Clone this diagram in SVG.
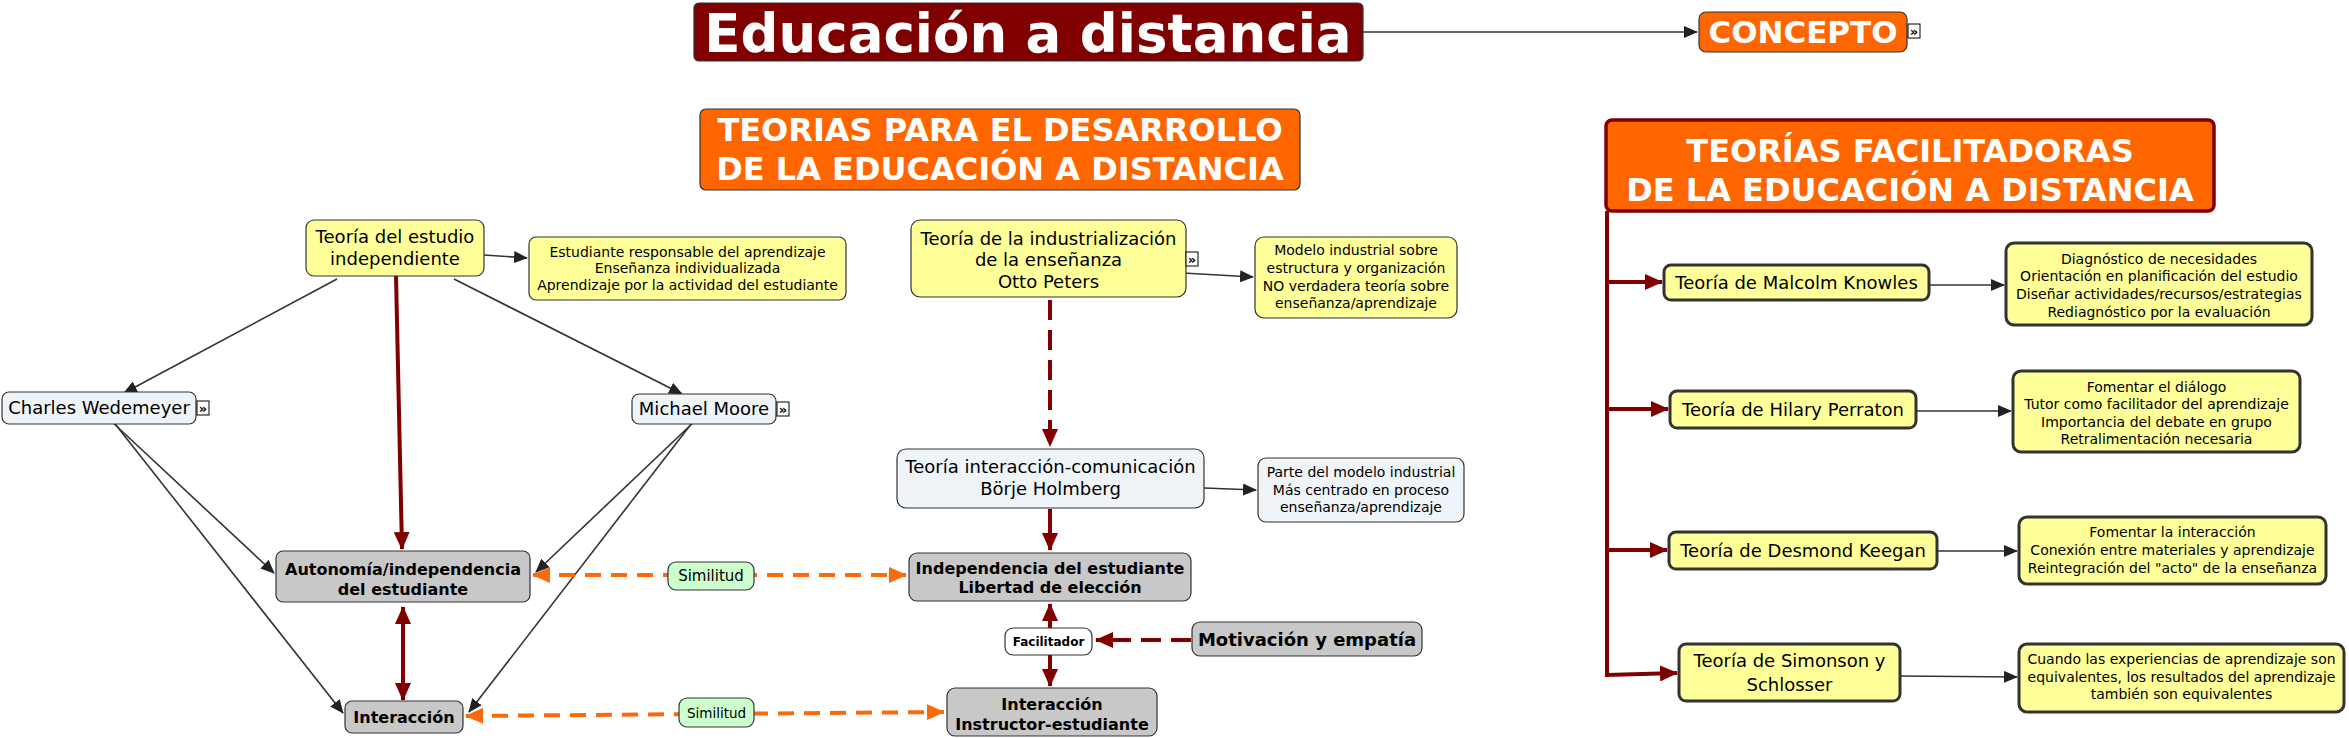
<svg xmlns="http://www.w3.org/2000/svg" width="2349" height="738" viewBox="0 0 2349 738">
<style>
text{font-family:"DejaVu Sans",Verdana,sans-serif;text-anchor:middle;fill:#000}
.w{fill:#fff;font-weight:bold}
.n{font-size:18px}
.d{font-size:14px}
.b{font-weight:bold}
.yel{fill:#ffff99;stroke:#333;stroke-width:1.2}
.yelR{fill:#ffff99;stroke:#333;stroke-width:3}
.blu{fill:#eef4f7;stroke:#333;stroke-width:1.2}
.gry{fill:#c8c8c8;stroke:#333;stroke-width:1.2}
.grn{fill:#ccffcc;stroke:#333;stroke-width:1.2}
.org{fill:#ff6600;stroke:#333;stroke-width:1.2}
.ic{fill:#fff;stroke:#000;stroke-width:1}
.ict{font-size:13px;font-weight:bold}
.thin{fill:none;stroke:#333;stroke-width:1.6;marker-end:url(#ab)}
.red{fill:none;stroke:#800000;stroke-width:4;marker-end:url(#ar)}
.redd{fill:none;stroke:#800000;stroke-width:4;stroke-dasharray:20 10;marker-end:url(#ar)}
.od{fill:none;stroke:#f96a0a;stroke-width:4;stroke-dasharray:16 10;marker-start:url(#ao);marker-end:url(#ao)}
</style>
<defs>
<marker id="ab" markerUnits="userSpaceOnUse" markerWidth="14" markerHeight="12" refX="13" refY="6" orient="auto-start-reverse"><path d="M0,0 L14,6 L0,12 Z" fill="#222"/></marker>
<marker id="ar" markerUnits="userSpaceOnUse" markerWidth="18" markerHeight="16" refX="17" refY="8" orient="auto-start-reverse"><path d="M0,0 L18,8 L0,16 Z" fill="#800000"/></marker>
<marker id="ao" markerUnits="userSpaceOnUse" markerWidth="18" markerHeight="16" refX="17" refY="8" orient="auto-start-reverse"><path d="M0,0 L18,8 L0,16 Z" fill="#f96a0a"/></marker>
</defs>

<g id="connectors">
<path class="thin" d="M1363,32 L1697,32"/>
<path class="thin" d="M484,255 L527,258"/>
<path class="thin" d="M337,279 L124,393"/>
<path class="thin" d="M454,279 L682,394"/>
<path class="red" d="M396,276 L402,549"/>
<path class="red" d="M403,700 L403,607" style="marker-start:url(#ar)"/>
<path class="thin" d="M110,420 L274,573"/>
<path class="thin" d="M112,420 L343,713"/>
<path class="thin" d="M697,419 L536,572"/>
<path class="thin" d="M695,419 L469,712"/>
<path class="od" d="M533,575 L906,575"/>
<path class="od" d="M466,716 L944,712"/>
<path class="thin" d="M1183,273 L1253,277"/>
<path class="redd" d="M1050,300 L1050,446"/>
<path class="thin" d="M1204,488 L1256,490"/>
<path class="red" d="M1050,509 L1050,550"/>
<path class="red" d="M1050,628 L1050,604"/>
<path class="red" d="M1050,655 L1050,686"/>
<path class="redd" d="M1191,640 L1096,640"/>
<path class="red" d="M1607,211 L1607,282 L1662,282"/>
<path class="red" d="M1607,282 L1607,409 L1668,409"/>
<path class="red" d="M1607,409 L1607,550 L1667,550"/>
<path class="red" d="M1607,550 L1607,675 L1677,673"/>
<path class="thin" d="M1929,285 L2004,285"/>
<path class="thin" d="M1916,411 L2011,411"/>
<path class="thin" d="M1937,551 L2017,551"/>
<path class="thin" d="M1900,676 L2017,677"/>
</g>

<g id="title">
<rect x="694" y="3" width="669" height="58" rx="5" fill="#800000" stroke="#333" stroke-width="1.2"/>
<text class="w" x="1028" y="52" font-size="53">Educación a distancia</text>
</g>

<g id="concepto">
<rect class="org" x="1699" y="12" width="208" height="40" rx="7"/>
<text class="w" x="1803" y="43" font-size="31">CONCEPTO</text>
<rect class="ic" x="1908" y="24" width="12" height="14"/>
<text class="ict" x="1914" y="36">»</text>
</g>

<g id="teorias-desarrollo">
<rect class="org" x="700" y="109" width="600" height="81" rx="6"/>
<text class="w" x="1000" y="141" font-size="32">TEORIAS PARA EL DESARROLLO</text>
<text class="w" x="1000" y="180" font-size="32">DE LA EDUCACIÓN A DISTANCIA</text>
</g>

<g id="teorias-facilitadoras">
<rect x="1606" y="120" width="608" height="91" rx="6" fill="#ff6600" stroke="#800000" stroke-width="3.5"/>
<text class="w" x="1910" y="162" font-size="32">TEORÍAS FACILITADORAS</text>
<text class="w" x="1910" y="201" font-size="32">DE LA EDUCACIÓN A DISTANCIA</text>
</g>

<g id="estudio-independiente">
<rect class="yel" x="306" y="220" width="178" height="56" rx="8"/>
<text class="n" x="395" y="243">Teoría del estudio</text>
<text class="n" x="395" y="265">independiente</text>
</g>

<g id="estudio-desc">
<rect class="yel" x="529" y="237" width="317" height="63" rx="7"/>
<text class="d" x="687.5" y="257">Estudiante responsable del aprendizaje</text>
<text class="d" x="687.5" y="273">Enseñanza individualizada</text>
<text class="d" x="687.5" y="290">Aprendizaje por la actividad del estudiante</text>
</g>

<g id="charles">
<rect class="blu" x="2" y="392" width="194" height="32" rx="7"/>
<text class="n" x="99" y="414">Charles Wedemeyer</text>
<rect class="ic" x="197" y="401" width="12" height="14"/>
<text class="ict" x="203" y="413">»</text>
</g>

<g id="michael">
<rect class="blu" x="632" y="394" width="144" height="30" rx="7"/>
<text class="n" x="704" y="415">Michael Moore</text>
<rect class="ic" x="777" y="402" width="12" height="14"/>
<text class="ict" x="783" y="414">»</text>
</g>

<g id="autonomia">
<rect class="gry" x="276" y="551" width="254" height="51" rx="7"/>
<text class="b" x="403" y="575" font-size="16">Autonomía/independencia</text>
<text class="b" x="403" y="595" font-size="16">del estudiante</text>
</g>

<g id="interaccion">
<rect class="gry" x="345" y="701" width="118" height="32" rx="7"/>
<text class="b" x="404" y="723" font-size="16">Interacción</text>
</g>

<g id="similitud-1">
<rect class="grn" x="668" y="562" width="86" height="28" rx="8"/>
<text x="711" y="581" font-size="15" fill="#222">Similitud</text>
</g>

<g id="similitud-2">
<rect class="grn" x="679" y="698" width="75" height="29" rx="8"/>
<text x="716.5" y="717.5" font-size="13.5" fill="#222">Similitud</text>
</g>

<g id="industrializacion">
<rect class="yel" x="911" y="220" width="275" height="77" rx="9"/>
<text class="n" x="1048.5" y="244.5">Teoría de la industrialización</text>
<text class="n" x="1048.5" y="265.5">de la enseñanza</text>
<text class="n" x="1048.5" y="287.5">Otto Peters</text>
<rect class="ic" x="1186" y="252" width="12" height="14"/>
<text class="ict" x="1192" y="264">»</text>
</g>

<g id="industrializacion-desc">
<rect class="yel" x="1255" y="237" width="202" height="81" rx="9"/>
<text class="d" x="1356" y="255">Modelo industrial sobre</text>
<text class="d" x="1356" y="273">estructura y organización</text>
<text class="d" x="1356" y="291">NO verdadera teoría sobre</text>
<text class="d" x="1356" y="308">enseñanza/aprendizaje</text>
</g>

<g id="interaccion-comunicacion">
<rect class="blu" x="897" y="449" width="307" height="59" rx="9"/>
<text class="n" x="1050.5" y="472.5">Teoría interacción-comunicación</text>
<text class="n" x="1050.5" y="494.5">Börje Holmberg</text>
</g>

<g id="interaccion-comunicacion-desc">
<rect class="blu" x="1258" y="458" width="206" height="64" rx="8"/>
<text class="d" x="1361" y="477">Parte del modelo industrial</text>
<text class="d" x="1361" y="495">Más centrado en proceso</text>
<text class="d" x="1361" y="512">enseñanza/aprendizaje</text>
</g>

<g id="independencia">
<rect class="gry" x="909" y="553" width="282" height="48" rx="8"/>
<text class="b" x="1050" y="574" font-size="16">Independencia del estudiante</text>
<text class="b" x="1050" y="593" font-size="16">Libertad de elección</text>
</g>

<g id="facilitador">
<rect x="1005" y="628" width="87" height="27" rx="8" fill="#fff" stroke="#333" stroke-width="1.2"/>
<text class="b" x="1048.5" y="646" font-size="12" fill="#333">Facilitador</text>
</g>

<g id="instructor">
<rect class="gry" x="947" y="688" width="210" height="48" rx="8"/>
<text class="b" x="1052" y="710" font-size="16">Interacción</text>
<text class="b" x="1052" y="730" font-size="16">Instructor-estudiante</text>
</g>

<g id="motivacion">
<rect class="gry" x="1192" y="622" width="230" height="34" rx="8"/>
<text class="b" x="1307" y="645.5" font-size="18">Motivación y empatía</text>
</g>

<g id="malcolm">
<rect class="yelR" x="1664" y="265" width="265" height="35" rx="7"/>
<text class="n" x="1796.5" y="289">Teoría de Malcolm Knowles</text>
</g>
<g id="malcolm-desc">
<rect class="yelR" x="2006" y="243" width="306" height="82" rx="8"/>
<text class="d" x="2159" y="264">Diagnóstico de necesidades</text>
<text class="d" x="2159" y="281">Orientación en planificación del estudio</text>
<text class="d" x="2159" y="299">Diseñar actividades/recursos/estrategias</text>
<text class="d" x="2159" y="317">Rediagnóstico por la evaluación</text>
</g>

<g id="hilary">
<rect class="yelR" x="1670" y="391" width="246" height="37" rx="7"/>
<text class="n" x="1793" y="416">Teoría de Hilary Perraton</text>
</g>
<g id="hilary-desc">
<rect class="yelR" x="2013" y="371" width="287" height="81" rx="8"/>
<text class="d" x="2156.5" y="392">Fomentar el diálogo</text>
<text class="d" x="2156.5" y="409">Tutor como facilitador del aprendizaje</text>
<text class="d" x="2156.5" y="427">Importancia del debate en grupo</text>
<text class="d" x="2156.5" y="444">Retralimentación necesaria</text>
</g>

<g id="desmond">
<rect class="yelR" x="1669" y="532" width="268" height="37" rx="7"/>
<text class="n" x="1803" y="557">Teoría de Desmond Keegan</text>
</g>
<g id="desmond-desc">
<rect class="yelR" x="2019" y="517" width="307" height="67" rx="8"/>
<text class="d" x="2172.5" y="537">Fomentar la interacción</text>
<text class="d" x="2172.5" y="555">Conexión entre materiales y aprendizaje</text>
<text class="d" x="2172.5" y="573">Reintegración del "acto" de la enseñanza</text>
</g>

<g id="simonson">
<rect class="yelR" x="1679" y="644" width="221" height="57" rx="7"/>
<text class="n" x="1789.5" y="667">Teoría de Simonson y</text>
<text class="n" x="1789.5" y="691">Schlosser</text>
</g>
<g id="simonson-desc">
<rect class="yelR" x="2019" y="644" width="325" height="68" rx="8"/>
<text class="d" x="2181.5" y="664">Cuando las experiencias de aprendizaje son</text>
<text class="d" x="2181.5" y="682">equivalentes, los resultados del aprendizaje</text>
<text class="d" x="2181.5" y="699">también son equivalentes</text>
</g>
</svg>
